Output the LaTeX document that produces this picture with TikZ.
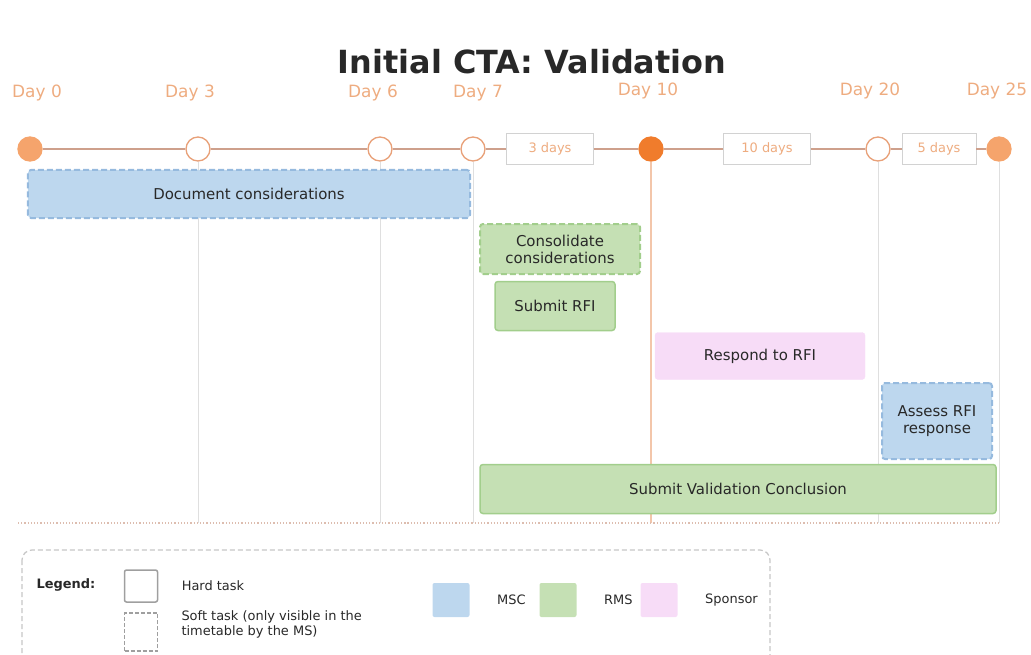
\documentclass[tikz,border=0pt]{standalone}
\usepackage{fontspec}
\setmainfont{DejaVu Sans}
\usepackage{xcolor}
\definecolor{dayorange}{RGB}{238,172,128}
\definecolor{ringorange}{RGB}{232,160,120}
\definecolor{lineorange}{RGB}{206,160,140}
\definecolor{mainorange}{RGB}{240,124,44}
\definecolor{softorange}{RGB}{245,164,108}
\definecolor{paleorange}{RGB}{243,198,170}
\definecolor{mscblue}{RGB}{189,215,238}
\definecolor{mscline}{RGB}{150,186,222}
\definecolor{rmsgreen}{RGB}{197,224,180}
\definecolor{rmsline}{RGB}{162,206,140}
\definecolor{sponsorpink}{RGB}{247,220,247}
\definecolor{dark}{RGB}{40,40,40}
\usepackage{tikz}
\usetikzlibrary{positioning, calc}

\begin{document}
\begin{tikzpicture}[x=1bp, y=-1bp,
    dayl/.style={font=\fontsize{17}{19}\selectfont, text=dayorange},
    milestone/.style={circle, draw=ringorange, line width=1.3bp, fill=white, minimum size=24bp, inner sep=0pt},
    durbox/.style={draw=gray!35, fill=white, text=dayorange, font=\fontsize{13}{15}\selectfont, minimum height=31bp, inner sep=0pt},
    tline/.style={draw=lineorange, line width=1.6bp},
    dayline/.style={draw=gray!25, line width=0.8bp},
    task/.style={rounded corners=3bp, inner sep=0pt, align=center, text=dark, font=\fontsize{15}{17}\selectfont},
    hard/.style={line width=1.5bp},
    soft/.style={line width=2bp, dash pattern=on 6bp off 3bp},
    msc/.style={fill=mscblue, draw=mscline},
    rms/.style={fill=rmsgreen, draw=rmsline},
    sponsor/.style={fill=sponsorpink, draw=sponsorpink},
    legtext/.style={font=\fontsize{13}{15.5}\selectfont, text=dark, anchor=west, align=left},
    swatch/.style={minimum width=37bp, minimum height=34bp, inner sep=0pt, rounded corners=2bp}
]
    \path[use as bounding box, clip] (0,0) rectangle (1031,655);

    % Title
    \node[font=\bfseries\fontsize{32}{36}\selectfont, text=dark] (title) at (532,62) {Initial CTA: Validation};

    % Day labels
    \node[dayl] (l0) at (37,93) {Day 0};
    \node[dayl] (l3) at (190,93) {Day 3};
    \node[dayl] (l6) at (373,93) {Day 6};
    \node[dayl] (l7) at (478,93) {Day 7};
    \node[dayl] (l10) at (648,91) {Day 10};
    \node[dayl] (l20) at (870,91) {Day 20};
    \node[dayl] (l25) at (997,91) {Day 25};

    % Milestones
    \node[milestone, fill=softorange, draw=softorange] (d0) at (30,149) {};
    \node[milestone] (d3) at (198,149) {};
    \node[milestone] (d6) at (380,149) {};
    \node[milestone] (d7) at (473,149) {};
    \node[milestone, fill=mainorange, draw=mainorange] (d10) at (651,149) {};
    \node[milestone] (d20) at (878,149) {};
    \node[milestone, fill=softorange, draw=softorange] (d25) at (999,149) {};

    % Durations
    \node[durbox, minimum width=87bp] (dur3) at (550,149) {3 days};
    \node[durbox, minimum width=87bp] (dur10) at (767,149) {10 days};
    \node[durbox, minimum width=74bp] (dur5) at (939,149) {5 days};

    % Timeline
    \draw[tline] (d0) -- (d3);
    \draw[tline] (d3) -- (d6);
    \draw[tline] (d6) -- (d7);
    \draw[tline] (d7) -- (dur3);
    \draw[tline] (dur3) -- (d10);
    \draw[tline] (d10) -- (dur10);
    \draw[tline] (dur10) -- (d20);
    \draw[tline] (d20) -- (dur5);
    \draw[tline] (dur5) -- (d25);

    % Day lines down to the base
    \coordinate (baseL) at (18,523);
    \coordinate (baseR) at (1001,523);
    \draw[dayline] (d3) -- (d3 |- baseL);
    \draw[dayline] (d6) -- (d6 |- baseL);
    \draw[dayline] (d7) -- (d7 |- baseL);
    \draw[dayline, draw=paleorange, line width=1.6bp] (d10) -- (d10 |- baseL);
    \draw[dayline] (d20) -- (d20 |- baseL);
    \draw[dayline] (d25) -- (d25 |- baseL);
    \draw[dotted, draw=lineorange!70, line width=1.2bp] (baseL) -- (baseR);

    % Tasks
    \node[task, soft, msc, minimum width=442bp, minimum height=48bp] (doc) at (249,194) {Document considerations};
    \node[task, soft, rms, minimum width=160bp, minimum height=50bp] (cons) at (560,249) {Consolidate\\considerations};
    \node[task, hard, rms, minimum width=120bp, minimum height=49bp] (rfi) at (555,306) {Submit RFI};
    \node[task, sponsor, minimum width=210bp, minimum height=47bp] (resp) at (760,356) {Respond to RFI};
    \node[task, soft, msc, minimum width=110bp, minimum height=76bp] (assess) at (937,421) {Assess RFI\\response};
    \node[task, hard, rms, minimum width=516bp, minimum height=49bp] (concl) at (738,489) {Submit Validation Conclusion};

    % Legend
    \draw[gray!45, line width=1.2bp, dash pattern=on 5bp off 3bp, rounded corners=10bp] (22,550) rectangle (770,672);
    \node[legtext, font=\bfseries\fontsize{13}{15.5}\selectfont] (leg) at (33,585) {Legend:};
    \node[draw=gray!75, line width=1.5bp, rounded corners=2bp, minimum width=33bp, minimum height=32bp, inner sep=0pt] (hardbox) at (141,586) {};
    \node[legtext, right=20bp of hardbox] (hardtxt) {Hard task};
    \node[draw=gray!75, line width=1.3bp, dash pattern=on 4bp off 2bp, minimum width=33bp, minimum height=38bp, inner sep=0pt] (softbox) at (141,632) {};
    \node[legtext, anchor=north west] (softtxt) at (178,607) {Soft task (only visible in the\\timetable by the MS)};
    \node[swatch, fill=mscblue] (mscbox) at (451,600) {};
    \node[legtext, right=24bp of mscbox] (msctxt) {MSC};
    \node[swatch, fill=rmsgreen] (rmsbox) at (558,600) {};
    \node[legtext, right=24bp of rmsbox] (rmstxt) {RMS};
    \node[swatch, fill=sponsorpink] (spobox) at (659,600) {};
    \node[legtext, right=24bp of spobox] (spotxt) {Sponsor};
\end{tikzpicture}
\end{document}
